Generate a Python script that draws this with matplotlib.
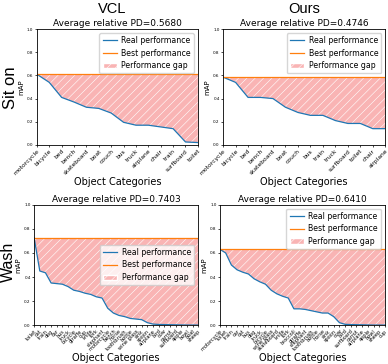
import matplotlib
matplotlib.use("Agg")
import matplotlib.pyplot as plt
import matplotlib.patches as mpatches

plt.rcParams['hatch.linewidth'] = 0.4
plt.rcParams['hatch.color'] = 'white'

# Sit on - VCL
cats_sit_vcl = ["motorcycle", "bicycle", "bed", "bench", "skateboard", "boat", "couch",
                "bus", "truck", "airplane", "chair", "train", "surfboard", "toilet"]
real_sit_vcl = [0.61, 0.54, 0.41, 0.37, 0.325, 0.315, 0.275, 0.195, 0.17, 0.17, 0.155,
                0.14, 0.025, 0.02]
best_sit_vcl = 0.61
pd_sit_vcl = 0.5680

# Sit on - Ours
cats_sit_ours = ["motorcycle", "bicycle", "bed", "bench", "skateboard", "boat", "couch",
                 "bus", "train", "truck", "surfboard", "toilet", "chair", "airplane"]
real_sit_ours = [0.585, 0.54, 0.41, 0.41, 0.40, 0.325, 0.28, 0.255, 0.255, 0.21, 0.185,
                 0.185, 0.14, 0.14]
best_sit_ours = 0.585
pd_sit_ours = 0.4746

# Wash - VCL
cats_wash_vcl = ["toilet", "cat", "train", "dog", "car", "bus", "truck", "bicycle",
                 "giraffe", "cup", "knife", "fork", "elephant", "motorcycle", "bench",
                 "horse", "toothbrush", "bottle", "wine glass", "sink", "spoon",
                 "airplane", "bird", "cow", "carrot", "surfboard", "apple", "bowl",
                 "boat", "sheep"]
real_wash_vcl = [0.725, 0.45, 0.435, 0.35, 0.345, 0.34, 0.32, 0.29, 0.28, 0.265, 0.255,
                 0.235, 0.225, 0.14, 0.10, 0.08, 0.07, 0.055, 0.05, 0.045, 0.02, 0.008,
                 0.005, 0.004, 0.003, 0.002, 0.001, 0.0, 0.0, 0.0]
best_wash_vcl = 0.725
pd_wash_vcl = 0.7403

# Wash - Ours
cats_wash_ours = ["motorcycle", "toilet", "train", "car", "cat", "bus", "dog", "truck",
                  "bicycle", "wine glass", "skateboard", "knife", "fork", "broccoli",
                  "giraffe", "elephant", "toothbrush", "bottle", "horse", "sink", "spoon",
                  "cow", "bird", "surfboard", "carrot", "airplane", "apple", "bowl",
                  "sheep", "cup"]
real_wash_ours = [0.63, 0.60, 0.50, 0.46, 0.44, 0.425, 0.385, 0.36, 0.34, 0.29, 0.26,
                  0.24, 0.225, 0.135, 0.135, 0.13, 0.12, 0.11, 0.10, 0.10, 0.07, 0.02,
                  0.006, 0.004, 0.003, 0.002, 0.001, 0.0, 0.0, 0.0]
best_wash_ours = 0.63
pd_wash_ours = 0.6410

fill_color = '#f9b4b4'


def draw(ax, cats, real, best, pd, legend_loc):
    x = list(range(len(cats)))
    ax.plot(x, real, color='C0', lw=0.9, label='Real performance')
    ax.plot(x, [best] * len(x), color='C1', lw=0.9, label='Best performance')
    ax.fill_between(x, real, [best] * len(x), facecolor=fill_color, edgecolor='white',
                    hatch='////', linewidth=0)
    ax.set_xlim(0, len(x) - 1)
    ax.set_ylim(0, 1.0)
    ax.set_yticks([0, 0.2, 0.4, 0.6, 0.8, 1.0])
    ax.tick_params(axis='y', labelsize=3, length=1.5, width=0.5, pad=1)
    ax.set_xticks(x)
    ax.set_xticklabels(cats, rotation=45, ha='right', rotation_mode='anchor',
                       fontsize=4.3 if len(cats) < 20 else 3.6)
    ax.tick_params(axis='x', length=1.5, width=0.5, pad=1)
    ax.set_ylabel('mAP', fontsize=5, labelpad=2)
    ax.set_xlabel('Object Categories', fontsize=7, labelpad=1)
    ax.set_title('Average relative PD=%.4f' % pd, fontsize=6.5, pad=2)
    for s in ax.spines.values():
        s.set_linewidth(0.6)
    gap = mpatches.Patch(facecolor=fill_color, edgecolor='white', hatch='////',
                         label='Performance gap')
    handles, labels = ax.get_legend_handles_labels()
    handles.append(gap)
    ax.legend(handles=handles, loc=legend_loc, fontsize=5.6, framealpha=0.8,
              handlelength=1.8, handletextpad=0.6, borderpad=0.4, labelspacing=0.45)


fig = plt.figure(figsize=(3.88, 3.64), dpi=100)

ax1 = fig.add_axes([0.095, 0.602, 0.415, 0.318])
ax2 = fig.add_axes([0.575, 0.602, 0.418, 0.318])
ax3 = fig.add_axes([0.088, 0.107, 0.423, 0.33])
ax4 = fig.add_axes([0.567, 0.107, 0.425, 0.33])

draw(ax1, cats_sit_vcl, real_sit_vcl, best_sit_vcl, pd_sit_vcl, 'upper right')
draw(ax2, cats_sit_ours, real_sit_ours, best_sit_ours, pd_sit_ours, 'upper right')
draw(ax3, cats_wash_vcl, real_wash_vcl, best_wash_vcl, pd_wash_vcl, 'center right')
draw(ax4, cats_wash_ours, real_wash_ours, best_wash_ours, pd_wash_ours, 'upper right')

big = ['Liberation Sans', 'DejaVu Sans']
fig.text(0.29, 0.974, 'VCL', fontsize=10.5, ha='center', va='center', family=big)
fig.text(0.783, 0.974, 'Ours', fontsize=10.5, ha='center', va='center', family=big)
fig.text(0.026, 0.76, 'Sit on', fontsize=12, rotation=90, ha='center', va='center',
         family=big)
fig.text(0.022, 0.28, 'Wash', fontsize=11.5, rotation=90, ha='center', va='center',
         family=big)

fig.savefig('out.png', dpi=100)
